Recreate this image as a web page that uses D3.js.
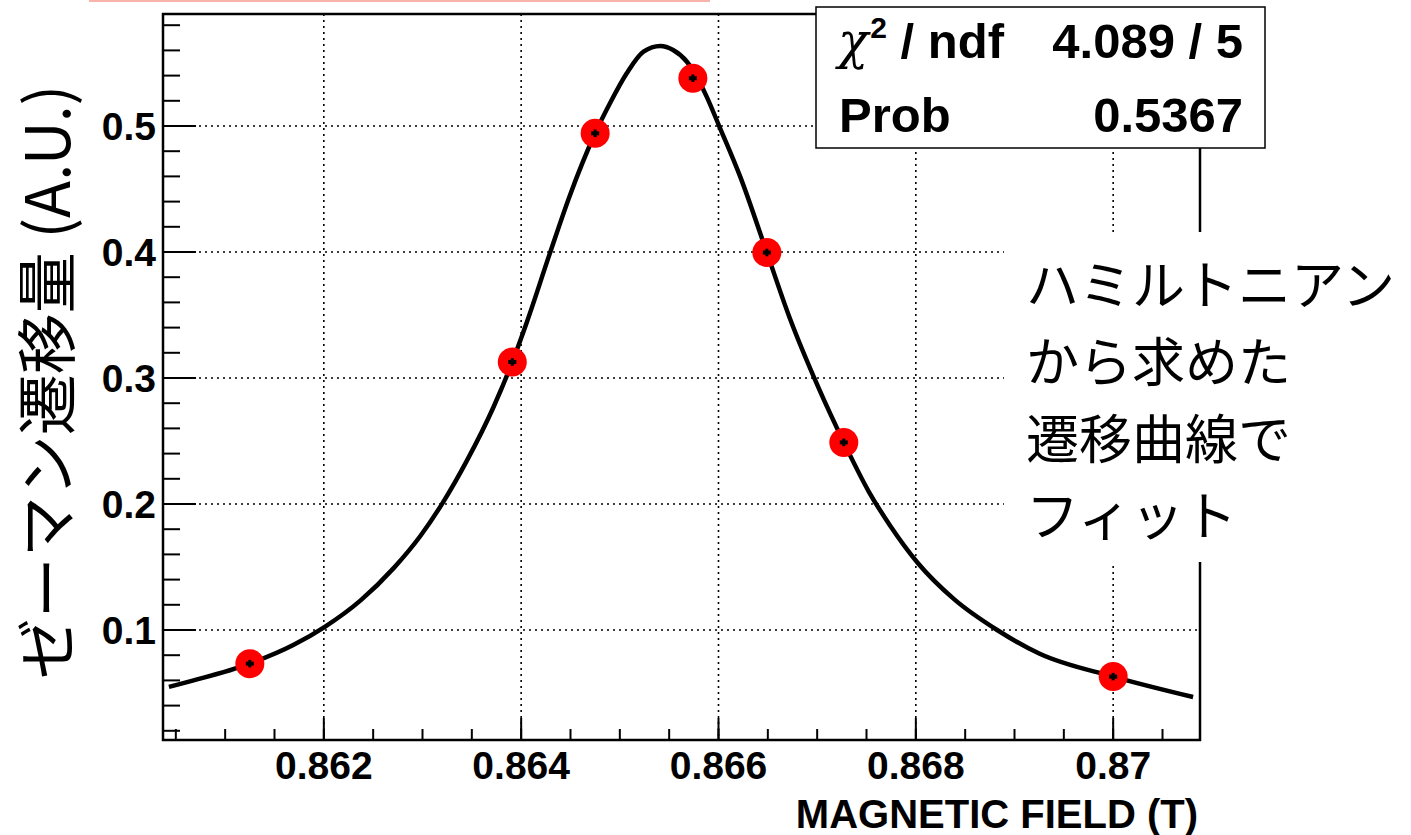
<!DOCTYPE html>
<html>
<head>
<meta charset="utf-8">
<script src="https://cdn.jsdelivr.net/npm/d3@7"></script>
<style>
  body { margin: 0; background: #fff; }
  svg { display: block; }
</style>
</head>
<body>
<div id="chartVis"></div>
<script>
// measured points
var fieldT = [0.86125, 0.86391, 0.86475, 0.86574, 0.86649, 0.86727, 0.87000];
var shift  = [0.0733, 0.3127, 0.4942, 0.5379, 0.3996, 0.2489, 0.0630];
var shiftErr = [0.003, 0.003, 0.003, 0.003, 0.003, 0.003, 0.003];

// fit curve
var fitX = [0.86043, 0.86068, 0.86125, 0.86169, 0.86201, 0.86237, 0.86271, 0.86298,
  0.86320, 0.86345, 0.86372, 0.86391, 0.86406, 0.86429, 0.86449, 0.86475,
  0.86490, 0.86507, 0.86524, 0.86541, 0.86554, 0.86568, 0.86576, 0.86588, 0.86601,
  0.86622, 0.86649, 0.86672, 0.86701, 0.86727, 0.86752, 0.86774, 0.86802, 0.86839,
  0.86882, 0.86925, 0.87000, 0.87081];
var fitY = [0.0549, 0.0600, 0.0733, 0.0880, 0.1025, 0.1233, 0.1493, 0.1748,
  0.2003, 0.2344, 0.2770, 0.3127, 0.3449, 0.3987, 0.4441, 0.4942,
  0.5180, 0.5418, 0.5590, 0.5635, 0.5603, 0.5510, 0.5420, 0.5233, 0.4994,
  0.4598, 0.3996, 0.3480, 0.2929, 0.2489, 0.2103, 0.1828, 0.1532, 0.1243,
  0.1002, 0.0813, 0.0630, 0.0468];

var xMajor = [0.862, 0.864, 0.866, 0.868, 0.870];
var xLabels = ["0.862", "0.864", "0.866", "0.868", "0.87"];
var yMajor = [0.1, 0.2, 0.3, 0.4, 0.5];
var yLabels = ["0.1", "0.2", "0.3", "0.4", "0.5"];

var statNames = ["/ ndf", "Prob"];
var statValues = ["4.089 / 5", "0.5367"];
var noteLines = ["ハミルトニアン", "から求めた", "遷移曲線で", "フィット"];

var width = 1411, height = 835;
var frame = { left: 163, right: 1200, top: 14, bottom: 740 };

var svg = d3.select("#chartVis").append("svg")
  .attr("width", width).attr("height", height);

var x = d3.scaleLinear().domain([0.86037, 0.87088]).range([frame.left, frame.right]);
var y = d3.scaleLinear().domain([0, 0.1]).range([756, 630]);

// pink strip at top
svg.append("rect").attr("x", 89).attr("y", 0).attr("width", 621).attr("height", 2)
  .attr("fill", "#f8b3ab");

// grid
var grid = svg.append("g").attr("stroke", "#000").attr("stroke-width", 1.6)
  .attr("stroke-dasharray", "2,4");
grid.selectAll("line.v").data(xMajor).enter().append("line")
  .attr("x1", d => x(d)).attr("x2", d => x(d))
  .attr("y1", frame.top).attr("y2", frame.bottom);
grid.selectAll("line.h").data(yMajor).enter().append("line")
  .attr("x1", frame.left).attr("x2", frame.right)
  .attr("y1", d => y(d)).attr("y2", d => y(d));

// ticks
var xMinor = d3.range(0.8605, 0.87076, 0.0005);
var yMinor = d3.range(0.02, 0.585, 0.02);
var ticks = svg.append("g").attr("stroke", "#000").attr("stroke-width", 2);
ticks.selectAll("line.xm").data(xMinor).enter().append("line")
  .attr("x1", d => x(d)).attr("x2", d => x(d))
  .attr("y1", frame.bottom).attr("y2", frame.bottom - 11);
ticks.selectAll("line.xM").data(xMajor).enter().append("line")
  .attr("x1", d => x(d)).attr("x2", d => x(d))
  .attr("y1", frame.bottom).attr("y2", frame.bottom - 22);
ticks.selectAll("line.ym").data(yMinor).enter().append("line")
  .attr("x1", frame.left).attr("x2", frame.left + 17)
  .attr("y1", d => y(d)).attr("y2", d => y(d));
ticks.selectAll("line.yM").data(yMajor).enter().append("line")
  .attr("x1", frame.left).attr("x2", frame.left + 33)
  .attr("y1", d => y(d)).attr("y2", d => y(d));

// frame
svg.append("rect").attr("x", frame.left).attr("y", frame.top)
  .attr("width", frame.right - frame.left).attr("height", frame.bottom - frame.top)
  .attr("fill", "none").attr("stroke", "#000").attr("stroke-width", 2.5);

// tick labels
var tickFont = "'Liberation Sans', Arial, sans-serif";
svg.append("g").selectAll("text").data(xMajor).enter().append("text")
  .attr("x", d => x(d)).attr("y", 779)
  .attr("text-anchor", "middle").attr("font-family", tickFont)
  .attr("font-weight", "bold").attr("font-size", 39)
  .text((d, i) => xLabels[i]);
svg.append("g").selectAll("text").data(yMajor).enter().append("text")
  .attr("x", 156).attr("y", d => y(d) + 14)
  .attr("text-anchor", "end").attr("font-family", tickFont)
  .attr("font-weight", "bold").attr("font-size", 39)
  .text((d, i) => yLabels[i]);

// axis titles
svg.append("text").attr("x", 1198).attr("y", 828)
  .attr("text-anchor", "end").attr("font-family", tickFont)
  .attr("font-weight", "bold").attr("font-size", 40)
  .text("MAGNETIC FIELD (T)");
svg.append("text")
  .attr("transform", "translate(43,382) rotate(-90)")
  .attr("text-anchor", "middle").attr("dominant-baseline", "central")
  .attr("font-family", "'Noto Sans CJK JP', sans-serif").attr("font-size", 61)
  .text("ゼーマン遷移量 (A.U.)");

// fit curve
var fitLine = d3.line().x(d => x(d[0])).y(d => y(d[1])).curve(d3.curveMonotoneX);
svg.append("path").datum(fitX.map((d, i) => [d, fitY[i]]))
  .attr("d", fitLine).attr("fill", "none")
  .attr("stroke", "#000").attr("stroke-width", 4.5);

// points
svg.append("g").selectAll("circle").data(fieldT).enter().append("circle")
  .attr("cx", d => x(d)).attr("cy", (d, i) => y(shift[i]))
  .attr("r", 14.5).attr("fill", "#ff0000");
var eb = svg.append("g").attr("stroke", "#000");
eb.selectAll("line.e").data(fieldT).enter().append("line")
  .attr("stroke-width", 3)
  .attr("x1", d => x(d)).attr("x2", d => x(d))
  .attr("y1", (d, i) => y(shift[i] - shiftErr[i])).attr("y2", (d, i) => y(shift[i] + shiftErr[i]));
eb.selectAll("line.c").data(fieldT).enter().append("line")
  .attr("stroke-width", 4)
  .attr("x1", d => x(d) - 4).attr("x2", d => x(d) + 4)
  .attr("y1", (d, i) => y(shift[i])).attr("y2", (d, i) => y(shift[i]));

// stats box
svg.append("rect").attr("x", 816).attr("y", 7).attr("width", 449).attr("height", 141)
  .attr("fill", "#fff").attr("stroke", "#000").attr("stroke-width", 1.5);
var chiText = svg.append("text").attr("x", 838).attr("y", 58)
  .attr("font-family", tickFont).attr("font-weight", "bold").attr("font-size", 49);
chiText.append("tspan").attr("font-family", "'DejaVu Serif', serif").attr("font-style", "italic")
  .attr("font-weight", "normal").attr("font-size", 50).text("χ");
chiText.append("tspan").attr("font-size", 30).attr("dy", -20).attr("dx", 2).text("2");
chiText.append("tspan").attr("dy", 20).text(" " + statNames[0]);
svg.append("text").attr("x", 839).attr("y", 132)
  .attr("font-family", tickFont).attr("font-weight", "bold").attr("font-size", 49)
  .text(statNames[1]);
svg.append("g").selectAll("text").data(statValues).enter().append("text")
  .attr("x", 1243).attr("y", (d, i) => i === 0 ? 58 : 132)
  .attr("text-anchor", "end").attr("font-family", tickFont)
  .attr("font-weight", "bold").attr("font-size", 49)
  .text(d => d);

// note
svg.append("rect").attr("x", 1004).attr("y", 232).attr("width", 407).attr("height", 330)
  .attr("fill", "#fff");
svg.append("g").selectAll("text").data(noteLines).enter().append("text")
  .attr("x", 1026).attr("y", (d, i) => 305 + i * 77)
  .attr("font-family", "'Noto Sans CJK JP', sans-serif").attr("font-size", 53)
  .text(d => d);
</script>
</body>
</html>
